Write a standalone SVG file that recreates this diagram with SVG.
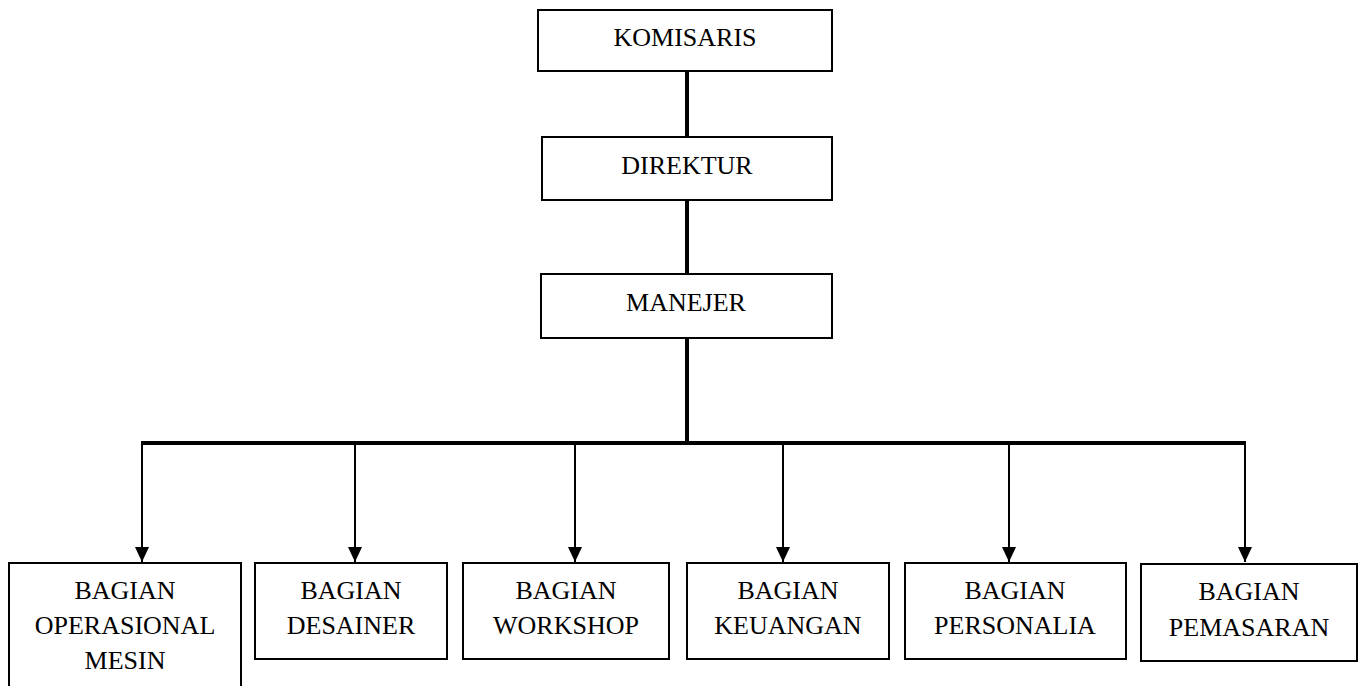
<svg xmlns="http://www.w3.org/2000/svg" width="1364" height="686" viewBox="0 0 1364 686">
<style>
.box{fill:#fff;stroke:#000;stroke-width:2}
.t{font-family:'Liberation Serif','Times New Roman',serif;font-size:26px;fill:#000;text-anchor:middle}
.thick{stroke:#000;stroke-width:4;fill:none}
.thin{stroke:#000;stroke-width:2;fill:none}
</style>
<defs>
<marker id="arr" viewBox="0 0 15 14" refX="15" refY="7" markerWidth="15" markerHeight="14" markerUnits="userSpaceOnUse" orient="auto">
<path d="M0,0 L15,7 L0,14 Z" fill="#000"/>
</marker>
</defs>
<rect width="1364" height="686" fill="#fff"/>
<g id="connectors">
<line class="thick" x1="687" y1="71" x2="687" y2="137"/>
<line class="thick" x1="687" y1="200" x2="687" y2="274"/>
<line class="thick" x1="687" y1="338" x2="687" y2="443"/>
<line class="thick" x1="141" y1="443" x2="1246" y2="443"/>
<line class="thin" x1="142" y1="443" x2="142" y2="562" marker-end="url(#arr)"/>
<line class="thin" x1="355" y1="443" x2="355" y2="562" marker-end="url(#arr)"/>
<line class="thin" x1="575" y1="443" x2="575" y2="562" marker-end="url(#arr)"/>
<line class="thin" x1="783" y1="443" x2="783" y2="562" marker-end="url(#arr)"/>
<line class="thin" x1="1009" y1="443" x2="1009" y2="562" marker-end="url(#arr)"/>
<line class="thin" x1="1245" y1="443" x2="1245" y2="562" marker-end="url(#arr)"/>
</g>
<g id="komisaris">
<rect class="box" x="538" y="10" width="294" height="61"/>
<text class="t" x="685" y="46">KOMISARIS</text>
</g>
<g id="direktur">
<rect class="box" x="542" y="137" width="290" height="63"/>
<text class="t" x="687" y="174">DIREKTUR</text>
</g>
<g id="manejer">
<rect class="box" x="541" y="274" width="291" height="64"/>
<text class="t" x="686" y="311">MANEJER</text>
</g>
<g id="operasional">
<rect class="box" x="9" y="563" width="232" height="140"/>
<text class="t" x="125" y="599">BAGIAN</text>
<text class="t" x="125" y="634">OPERASIONAL</text>
<text class="t" x="125" y="669">MESIN</text>
</g>
<g id="desainer">
<rect class="box" x="255" y="563" width="192" height="96"/>
<text class="t" x="351" y="599">BAGIAN</text>
<text class="t" x="351" y="634">DESAINER</text>
</g>
<g id="workshop">
<rect class="box" x="463" y="563" width="206" height="96"/>
<text class="t" x="566" y="599">BAGIAN</text>
<text class="t" x="566" y="634">WORKSHOP</text>
</g>
<g id="keuangan">
<rect class="box" x="687" y="563" width="202" height="96"/>
<text class="t" x="788" y="599">BAGIAN</text>
<text class="t" x="788" y="634">KEUANGAN</text>
</g>
<g id="personalia">
<rect class="box" x="905" y="563" width="221" height="96"/>
<text class="t" x="1015" y="599">BAGIAN</text>
<text class="t" x="1015" y="634">PERSONALIA</text>
</g>
<g id="pemasaran">
<rect class="box" x="1141" y="564" width="216" height="97"/>
<text class="t" x="1249" y="600">BAGIAN</text>
<text class="t" x="1249" y="636">PEMASARAN</text>
</g>
</svg>
